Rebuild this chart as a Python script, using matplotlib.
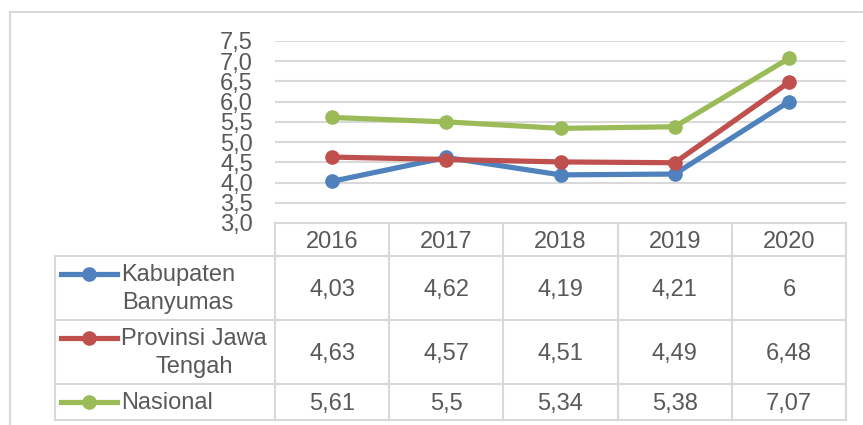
import matplotlib
matplotlib.use("Agg")
import matplotlib.pyplot as plt
from matplotlib.lines import Line2D
from matplotlib.patches import Rectangle
import matplotlib.transforms as mtransforms

plt.rcParams['font.family'] = ['Liberation Sans', 'DejaVu Sans']

# ---- data ----
years = ["2016", "2017", "2018", "2019", "2020"]
series_names = ["Kabupaten\nBanyumas", "Provinsi Jawa\nTengah", "Nasional"]
banyumas = [4.03, 4.62, 4.19, 4.21, 6]
jateng = [4.63, 4.57, 4.51, 4.49, 6.48]
nasional = [5.61, 5.5, 5.34, 5.38, 7.07]
value_labels = [
    ["4,03", "4,62", "4,19", "4,21", "6"],
    ["4,63", "4,57", "4,51", "4,49", "6,48"],
    ["5,61", "5,5", "5,34", "5,38", "7,07"],
]
yticks = [3.0, 3.5, 4.0, 4.5, 5.0, 5.5, 6.0, 6.5, 7.0, 7.5]
ytick_labels = ["3,0", "3,5", "4,0", "4,5", "5,0", "5,5", "6,0", "6,5", "7,0", "7,5"]
colors = ["#4F81BD", "#C0504D", "#9BBB59"]
all_series = [banyumas, jateng, nasional]

# ---- layout ----
W, H = 863, 425
fig = plt.figure(figsize=(W / 100, H / 100), dpi=100)

def fx(px):
    return px / W

def fy(py):
    return 1 - py / H

TXT = "#595959"
GRID = "#D9D9D9"
FS = 17

# outer frame
fig.add_artist(Rectangle((fx(10), fy(440)), fx(880) - fx(10), fy(12) - fy(440),
                         transform=fig.transFigure, fill=False, edgecolor=GRID, lw=1.5))

plot_left, plot_right, plot_top, plot_bottom = 275, 846, 41, 223
ax = fig.add_axes([fx(plot_left), fy(plot_bottom), fx(plot_right) - fx(plot_left),
                   fy(plot_top) - fy(plot_bottom)])
x = list(range(len(years)))
ax.set_xlim(-0.5, len(years) - 0.5)
ax.set_ylim(yticks[0], yticks[-1])
ax.set_yticks(yticks, ytick_labels)
ax.set_xticks([])
ax.tick_params(axis='y', length=0, pad=16, labelsize=FS, labelcolor=TXT)
for s in ax.spines.values():
    s.set_visible(False)
ax.grid(axis='y', color=GRID, lw=1.5)
ax.set_axisbelow(True)
ax.patch.set_alpha(0)

for vals, c in zip(all_series, colors):
    ax.plot(x, vals, color=c, lw=3.75, marker='o', ms=9.5, clip_on=False, zorder=3)

# ---- data table ----
blend = mtransforms.blended_transform_factory(ax.transData, fig.transFigure)
header_top, header_bot = 223, 256
row_edges = [256, 320, 384, 420]
legend_left = 55

# vertical column lines
for i in range(len(years) + 1):
    xe = i - 0.5
    fig.add_artist(Line2D([xe, xe], [fy(header_top), fy(row_edges[-1])], transform=blend,
                          color=GRID, lw=1.5))
# header top line
fig.add_artist(Line2D([-0.5, len(years) - 0.5], [fy(header_top)] * 2, transform=blend,
                      color=GRID, lw=1.5))
# legend column left line
fig.add_artist(Line2D([fx(legend_left)] * 2, [fy(row_edges[0]), fy(row_edges[-1])],
                      transform=fig.transFigure, color=GRID, lw=1.5))
# horizontal row lines
right_fig = fx(plot_right)
for ry in row_edges:
    fig.add_artist(Line2D([fx(legend_left), right_fig], [fy(ry)] * 2,
                          transform=fig.transFigure, color=GRID, lw=1.5))

# header labels
for i, yr in enumerate(years):
    fig.text(i, fy((header_top + header_bot) / 2 + 2), yr, transform=blend,
             ha='center', va='center', fontsize=FS, color=TXT)

# rows
for r in range(len(series_names)):
    top, bot = row_edges[r], row_edges[r + 1]
    cy = (top + bot) / 2
    for i in range(len(years)):
        fig.text(i, fy(cy + 2), value_labels[r][i], transform=blend,
                 ha='center', va='center', fontsize=FS, color=TXT)
    nlines = series_names[r].count("\n") + 1
    my = cy - (nlines - 1) * 14.5
    fig.add_artist(Line2D([fx(61), fx(117)], [fy(my)] * 2, transform=fig.transFigure,
                          color=colors[r], lw=3.75))
    fig.add_artist(Line2D([fx(89)], [fy(my)], transform=fig.transFigure,
                          color=colors[r], marker='o', ms=9.5, lw=0))
    fig.text(fx(121), fy(cy + 1), series_names[r], ha='left', va='center',
             multialignment='center', fontsize=FS, color=TXT, linespacing=1.3)

fig.savefig("out.png", dpi=100)
